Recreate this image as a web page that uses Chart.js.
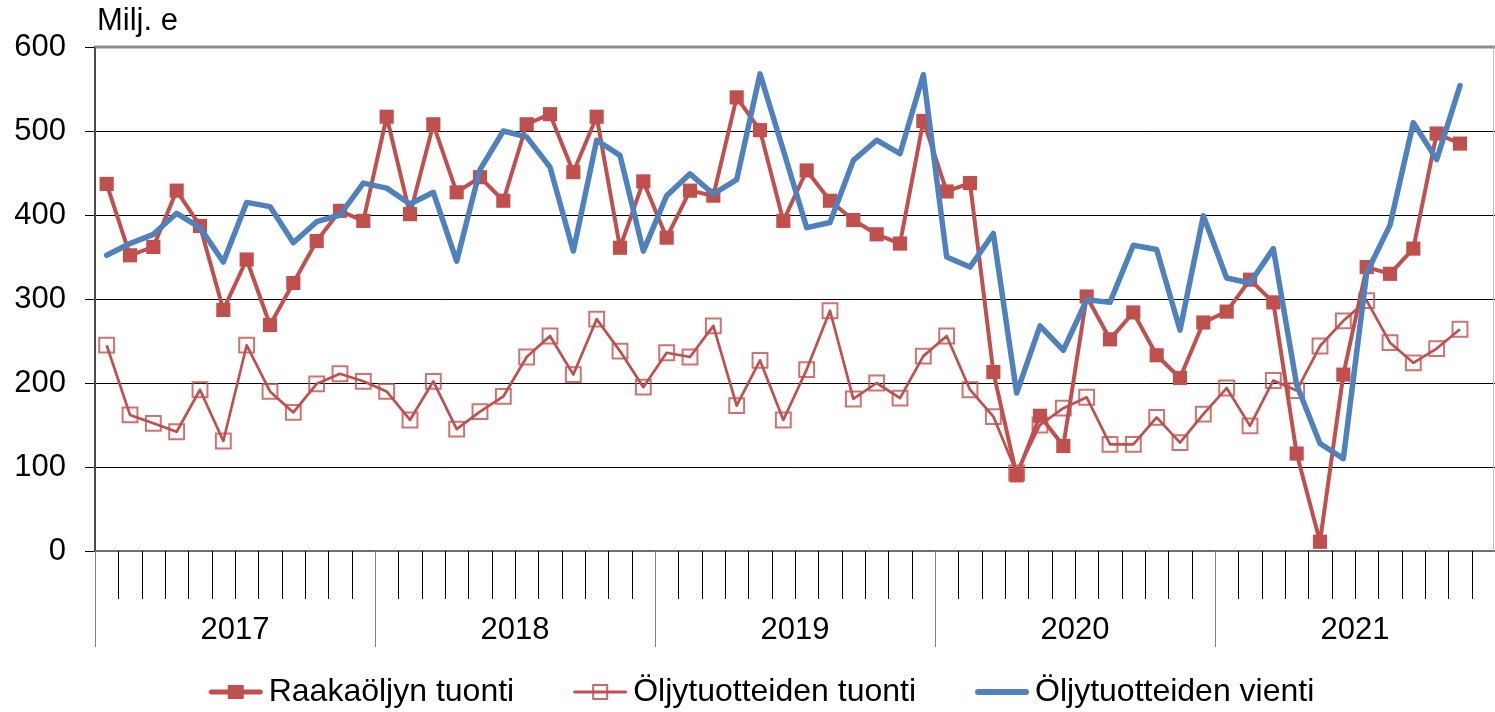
<!DOCTYPE html>
<html lang="fi">
<head>
<meta charset="utf-8">
<title>Raakaöljyn ja öljytuotteiden tuonti ja vienti</title>
<script src="https://cdn.jsdelivr.net/npm/chart.js@4.4.1/dist/chart.umd.min.js"></script>
<style>
  html, body { margin: 0; padding: 0; background: #fff; }
  #kaavio { position: relative; width: 1495px; height: 712px; }
</style>
</head>
<body>
<div id="kaavio"><canvas id="grafiikka"></canvas></div>
<script>
const vuodet = ["2017", "2018", "2019", "2020", "2021"];
const kuukaudet = ["01", "02", "03", "04", "05", "06", "07", "08", "09", "10", "11", "12"];
const yTikit = [0, 100, 200, 300, 400, 500, 600];

// milj. euroa / kk, 2017M01 - 2021M11 (joulukuu 2021 puuttuu)
const raakaoljynTuonti = [
    437, 352, 362, 429, 387, 287, 347, 269, 319, 369, 405, 393,
    517, 401, 508, 427, 445, 417, 508, 520, 451, 517, 361, 440,
    373, 429, 423, 540, 501, 393, 453, 417, 394, 377, 366, 512,
    428, 438, 213, 90, 161, 125, 303, 252, 284, 233, 206, 272,
    285, 323, 296, 116, 11, 210, 338, 330, 360, 497, 485
];
const oljytuotteidenTuonti = [
    245, 162, 152, 142, 192, 131, 245, 190, 165, 199, 211, 202,
    190, 156, 202, 145, 166, 184, 231, 256, 210, 276, 238, 195,
    236, 231, 268, 173, 227, 156, 216, 286, 181, 200, 182, 232,
    256, 192, 160, 93, 150, 170, 183, 127, 127, 159, 129, 163,
    194, 149, 203, 191, 244, 274, 298, 248, 224, 241, 264
];
const oljytuotteidenVienti = [
    352, 366, 377, 402, 385, 344, 415, 410, 367, 392, 400, 438,
    432, 413, 427, 345, 454, 500, 493, 457, 357, 489, 471, 357,
    423, 449, 425, 442, 568, 477, 385, 391, 465, 489, 473, 567,
    350, 338, 378, 188, 268, 239, 299, 296, 364, 359, 263, 399,
    325, 319, 360, 198, 128, 110, 331, 388, 510, 466, 554
];

const kuukausiLabelit = [];
vuodet.forEach(vuosi => {
    kuukaudet.forEach(kk => kuukausiLabelit.push(vuosi + "M" + kk));
});

const PUNAINEN = "#C0504D";
const SININEN = "#4F81BD";
const FONTTI = '"Liberation Sans", Arial, sans-serif';

function legendaSymboli(vari, paksuus, merkki) {
    const c = document.createElement("canvas");
    c.width = 56;
    c.height = 20;
    const ctx = c.getContext("2d");

    ctx.strokeStyle = vari;
    ctx.lineWidth = paksuus;
    ctx.lineCap = "round";
    ctx.beginPath();
    ctx.moveTo(paksuus / 2 + 1, 10);
    ctx.lineTo(56 - paksuus / 2 - 1, 10);
    ctx.stroke();

    if (merkki === "tayte") {
        ctx.fillStyle = vari;
        ctx.fillRect(20, 3, 16, 14);
    }
    if (merkki === "ontto") {
        ctx.strokeStyle = "rgba(192, 80, 77, 0.85)";
        ctx.lineWidth = 2;
        ctx.strokeRect(21, 3, 14, 14);
    }
    return c;
}

// indeksoitu datasetin mukaan
const legendaKuvat = [
    legendaSymboli(PUNAINEN, 5, "tayte"),
    legendaSymboli(PUNAINEN, 3, "ontto"),
    legendaSymboli(SININEN, 6, null)
];

// selite hieman oikealle kuten alkuperäisessä
const legendanSiirto = {
    id: "legendanSiirto",
    afterLayout(chart) {
        if (chart.legend) {
            chart.legend.left += 19;
            chart.legend.right += 19;
        }
    }
};

// kuukausien väliviivat, vuosirajat ja vuosiluvut sekä kuvaalueen kehys
const aikaakseli = {
    id: "aikaakseli",
    afterDraw(chart) {
        const { ctx, chartArea, scales } = chart;
        const x = scales.x;
        const askel = x.getPixelForValue(1) - x.getPixelForValue(0);
        const ala = chartArea.bottom;

        ctx.save();
        kuukausiLabelit.forEach((nimi, i) => {
            const px = Math.round(x.getPixelForValue(i) - askel / 2) + 0.5;
            const vuodenAlku = i % kuukaudet.length === 0;
            ctx.strokeStyle = vuodenAlku ? "#808080" : "#000";
            ctx.lineWidth = 1;
            ctx.beginPath();
            ctx.moveTo(px, ala);
            ctx.lineTo(px, ala + (vuodenAlku ? 96 : 48));
            ctx.stroke();
        });

        ctx.font = "31px " + FONTTI;
        ctx.fillStyle = "#000";
        ctx.textAlign = "center";
        ctx.textBaseline = "alphabetic";
        vuodet.forEach((vuosi, j) => {
            const alku = x.getPixelForValue(j * kuukaudet.length) - askel / 2;
            const loppu = alku + askel * kuukaudet.length;
            ctx.fillText(vuosi, (alku + loppu) / 2, ala + 88);
        });

        // kehys ylhäällä ja oikealla
        ctx.strokeStyle = "#8c8c8c";
        ctx.lineWidth = 3;
        ctx.beginPath();
        ctx.moveTo(chartArea.left, chartArea.top);
        ctx.lineTo(chartArea.right, chartArea.top);
        ctx.stroke();
        ctx.strokeStyle = "#c0c0c0";
        ctx.lineWidth = 1;
        ctx.beginPath();
        ctx.moveTo(chartArea.right - 1.5, chartArea.top);
        ctx.lineTo(chartArea.right - 1.5, chartArea.bottom);
        ctx.stroke();

        ctx.textAlign = "left";
        ctx.fillText("Milj. e", 97, 30);
        ctx.restore();
    }
};

const ctx = document.getElementById("grafiikka");

new Chart(ctx, {
    type: "line",
    data: {
        labels: kuukausiLabelit,
        datasets: [
            {
                label: "Raakaöljyn tuonti",
                data: raakaoljynTuonti,
                borderColor: PUNAINEN,
                backgroundColor: PUNAINEN,
                borderWidth: 4,
                borderJoinStyle: "round",
                pointStyle: "rect",
                pointRadius: 10,
                pointBorderWidth: 0,
                pointBackgroundColor: PUNAINEN,
                order: 1
            },
            {
                label: "Öljytuotteiden tuonti",
                data: oljytuotteidenTuonti,
                borderColor: PUNAINEN,
                backgroundColor: "rgba(0, 0, 0, 0)",
                borderWidth: 2.7,
                borderJoinStyle: "round",
                pointStyle: "rect",
                pointRadius: 10.5,
                pointBorderWidth: 2,
                pointBorderColor: "rgba(192, 80, 77, 0.8)",
                pointBackgroundColor: "rgba(0, 0, 0, 0)",
                order: 2
            },
            {
                label: "Öljytuotteiden vienti",
                data: oljytuotteidenVienti,
                borderColor: SININEN,
                backgroundColor: SININEN,
                borderWidth: 5.5,
                borderJoinStyle: "round",
                borderCapStyle: "round",
                pointRadius: 0,
                order: 0
            }
        ]
    },
    options: {
        responsive: true,
        maintainAspectRatio: false,
        animation: false,
        layout: {
            autoPadding: false,
            padding: { top: 47, right: 0, bottom: 0, left: 0 }
        },
        plugins: {
            legend: {
                position: "bottom",
                maxHeight: 105,
                labels: {
                    usePointStyle: true,
                    pointStyleWidth: 34,
                    padding: 69,
                    color: "#000",
                    font: { size: 32, family: FONTTI },
                    sort: (a, b) => a.datasetIndex - b.datasetIndex,
                    generateLabels(chart) {
                        const oletus = Chart.defaults.plugins.legend.labels.generateLabels(chart);
                        return oletus.map(item => ({ ...item, pointStyle: legendaKuvat[item.datasetIndex] }));
                    }
                }
            },
            tooltip: { enabled: false }
        },
        scales: {
            x: {
                type: "category",
                offset: true,
                afterFit(scale) {
                    scale.height = 56;
                },
                ticks: { display: false },
                grid: { display: false, drawTicks: false },
                border: { display: true, color: "#6e6e6e", width: 2 }
            },
            y: {
                min: 0,
                max: 600,
                afterFit(scale) {
                    scale.width = 95;
                },
                afterBuildTicks(scale) {
                    scale.ticks = yTikit.map(value => ({ value }));
                },
                ticks: {
                    color: "#000",
                    padding: 19,
                    font: { size: 31, family: FONTTI }
                },
                grid: {
                    color: "#000",
                    lineWidth: 1,
                    tickLength: 10,
                    tickColor: "#000"
                },
                border: { display: true, color: "#4a4a4a", width: 2 }
            }
        }
    },
    plugins: [aikaakseli, legendanSiirto]
});
</script>
</body>
</html>
